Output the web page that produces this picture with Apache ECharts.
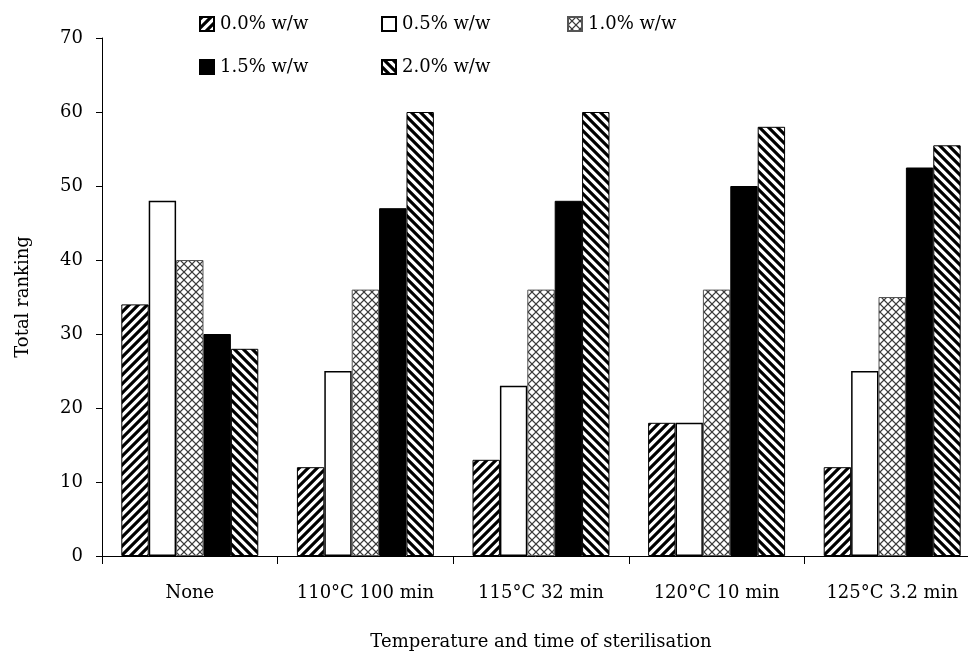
<!DOCTYPE html>
<html>
<head>
<meta charset="utf-8">
<script src="https://cdn.jsdelivr.net/npm/echarts@6/dist/echarts.min.js"></script>
<style>
html,body{margin:0;padding:0;background:#fff;}
#main{width:968px;height:655px;}
</style>
</head>
<body>
<div id="main"></div>
<script>
const categories = ['None', '110°C 100 min', '115°C 32 min', '120°C 10 min', '125°C 3.2 min'];
const seriesNames = ['0.0% w/w', '0.5% w/w', '1.0% w/w', '1.5% w/w', '2.0% w/w'];
const s00 = [34, 12, 13, 18, 12];
const s05 = [48, 25, 23, 18, 25];
const s10 = [40, 36, 36, 36, 35];
const s15 = [30, 47, 48, 50, 52.5];
const s20 = [28, 60, 60, 58, 55.5];
const yTicks = [0, 10, 20, 30, 40, 50, 60, 70];

function makePattern(type) {
  const P = type === 'cross' ? 8 : 9;
  const c = document.createElement('canvas');
  c.width = P; c.height = P;
  const ctx = c.getContext('2d');
  const img = ctx.createImageData(P, P);
  const N = 4;
  for (let y = 0; y < P; y++) {
    for (let x = 0; x < P; x++) {
      let cov = 0;
      for (let sy = 0; sy < N; sy++) {
        for (let sx = 0; sx < N; sx++) {
          const px = x + (sx + 0.5) / N, py = y + (sy + 0.5) / N;
          let ink = false;
          if (type === 'fwd') {
            const u = ((px + py) % P + P) % P;
            ink = u < P / 2;
          } else if (type === 'back') {
            const u = ((px - py) % P + P) % P;
            ink = u < P / 2;
          } else {
            const u1 = ((px + py) % P + P) % P;
            const u2 = ((px - py) % P + P) % P;
            const w = 0.9;
            ink = Math.min(u1, P - u1) < w || Math.min(u2, P - u2) < w;
          }
          if (ink) cov++;
        }
      }
      cov /= N * N;
      const dark = type === 'cross' ? 60 : 0;
      const v = Math.round(255 * (1 - cov) + dark * cov);
      const i = (y * P + x) * 4;
      img.data[i] = v; img.data[i + 1] = v; img.data[i + 2] = v; img.data[i + 3] = 255;
    }
  }
  ctx.putImageData(img, 0, 0);
  return { image: c, repeat: 'repeat' };
}

const fontFamily = 'DejaVu Serif';
const styles = [
  { color: makePattern('fwd'), borderColor: '#000', borderWidth: 1 },
  { color: '#ffffff', borderColor: '#000', borderWidth: 1.5 },
  { color: makePattern('cross'), borderColor: '#555', borderWidth: 1 },
  { color: '#000000', borderColor: '#000', borderWidth: 1 },
  { color: makePattern('back'), borderColor: '#000', borderWidth: 1 }
];
const values = [s00, s05, s10, s15, s20];

const legendPos = [[199, 15], [381, 15], [567, 15], [199, 58], [381, 58]];
const legends = seriesNames.map((n, i) => ({
  data: [{ name: n, icon: 'rect' }],
  left: legendPos[i][0],
  top: legendPos[i][1],
  itemWidth: 14,
  itemHeight: 14,
  itemGap: 0,
  padding: 0,
  selectedMode: false,
  textStyle: { fontFamily: fontFamily, fontSize: 18, color: '#000', padding: [0, 0, 0, 1] }
}));

const chart = echarts.init(document.getElementById('main'), null, { renderer: 'canvas' });
chart.setOption({
  animation: false,
  backgroundColor: '#fff',
  legend: legends,
  grid: { left: 102, top: 38, bottom: 99, right: -12, containLabel: false, outerBoundsMode: 'none' },
  xAxis: {
    type: 'category',
    data: categories,
    name: 'Temperature and time of sterilisation',
    nameLocation: 'middle',
    nameGap: 77,
    nameTextStyle: { fontFamily: fontFamily, fontSize: 18, color: '#000' },
    axisLine: { lineStyle: { color: '#000', width: 1 } },
    axisTick: { show: true, length: 8, lineStyle: { color: '#000' } },
    axisLabel: { fontFamily: fontFamily, fontSize: 18, color: '#000', margin: 28, interval: 0 },
    splitLine: { show: false }
  },
  yAxis: {
    type: 'value',
    min: yTicks[0],
    max: yTicks[yTicks.length - 1],
    interval: 10,
    name: 'Total ranking',
    nameLocation: 'middle',
    nameGap: 70,
    nameRotate: 90,
    nameTextStyle: { fontFamily: fontFamily, fontSize: 18, color: '#000' },
    axisLine: { show: true, lineStyle: { color: '#000', width: 1 } },
    axisTick: { show: true, length: 6, lineStyle: { color: '#000' } },
    axisLabel: { fontFamily: fontFamily, fontSize: 18, color: '#000', margin: 19 },
    splitLine: { show: false }
  },
  series: seriesNames.map((n, i) => ({
    name: n,
    type: 'bar',
    data: values[i],
    barGap: '0%',
    barCategoryGap: '22%',
    itemStyle: styles[i],
    emphasis: { disabled: true }
  }))
});
</script>
</body>
</html>
